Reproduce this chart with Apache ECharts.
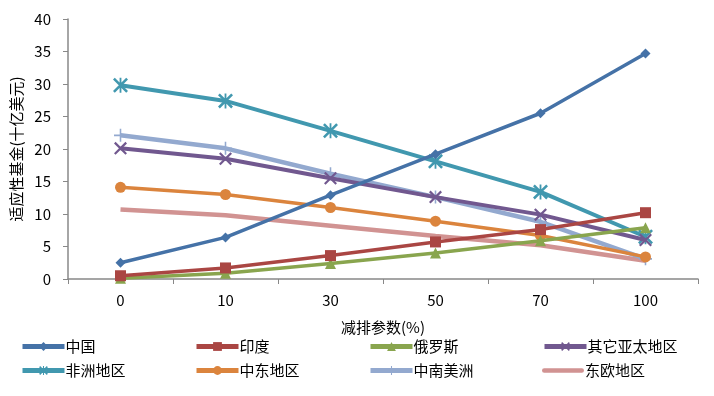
<!DOCTYPE html>
<html><head><meta charset="utf-8">
<script src="https://cdn.jsdelivr.net/npm/echarts@6/dist/echarts.min.js"></script>
<style>html,body{margin:0;padding:0;background:#fff}#c{width:714px;height:396px}</style>
</head><body><div id="c"></div>
<script>
const categories = ['0','10','30','50','70','100'];
const seriesNames = ['中国','印度','俄罗斯','其它亚太地区','非洲地区','中东地区','中南美洲','东欧地区'];
const china = [2.5, 6.4, 12.9, 19.2, 25.5, 34.7];
const india = [0.5, 1.7, 3.6, 5.7, 7.6, 10.2];
const russia = [0.1, 0.9, 2.4, 4.0, 5.9, 7.9];
const otherAP = [20.1, 18.5, 15.5, 12.6, 9.9, 6.0];
const africa = [29.8, 27.4, 22.8, 18.1, 13.4, 6.5];
const middleEast = [14.1, 13.0, 11.0, 8.9, 6.7, 3.4];
const latAm = [22.1, 20.1, 16.2, 12.6, 8.8, 3.1];
const eastEurope = [10.7, 9.8, 8.2, 6.6, 5.2, 2.8];
const yTicks = [0,5,10,15,20,25,30,35,40];

const values = [china, india, russia, otherAP, africa, middleEast, latAm, eastEurope];
const colors = ['#4572A7','#AA4643','#89A54E','#71588F','#4198AF','#DB843D','#93A9CF','#D19392'];
const xPath = 'path://M0,1.2L1.2,0L10,8.8L8.8,10ZM8.8,0L10,1.2L1.2,10L0,8.8Z';
const starPath = 'path://M0,1.2L1.2,0L10,8.8L8.8,10ZM8.8,0L10,1.2L1.2,10L0,8.8ZM4.4,0H5.6V10H4.4Z';
const plusPath = 'path://M4.4,0H5.6V4.4H10V5.6H5.6V10H4.4V5.6H0V4.4H4.4Z';
const symbols = ['diamond','rect','triangle',xPath,starPath,'circle',plusPath,'none'];
const sizes = [10,11,11,13,15,11,13,0];
const widths = [3.5,3.5,3.5,4,4,3.5,4.5,4.5];

const chart = echarts.init(document.getElementById('c'));
const font = '"Noto Sans CJK SC", "Liberation Sans", sans-serif';
const legends = seriesNames.map((n, i) => {
  const plain = symbols[i] === 'none';
  return {
    data: [plain ? {name: n, icon: 'path://M2,0H40A2,2,0,0,1,40,4.5H2A2,2,0,0,1,2,0Z'} : n],
    orient: 'horizontal', left: 20 + (i % 4) * 174,
    top: 339 + Math.floor(i / 4) * 24 + (plain ? 0 : 0),
    padding: 0,
    itemWidth: 42, itemHeight: plain ? 5 : 11,
    lineStyle: {width: 5},
    textStyle: {fontFamily: font, fontSize: 15, color: '#000', padding:[0,0,0,-4]}
  };
});
chart.setOption({
  animation: false,
  color: colors,
  grid: {left: 68, right: 16, top: 19, bottom: 117, containLabel: false},
  legend: legends,
  xAxis: {
    type: 'category', data: categories, boundaryGap: true,
    name: '减排参数(%)', nameLocation: 'middle', nameGap: 41,
    nameTextStyle: {fontFamily: font, fontSize: 15, color: '#000'},
    axisLine: {lineStyle: {color: '#888', width: 1.5}},
    axisTick: {show: true, alignWithLabel: false, length: 5, lineStyle: {color: '#888'}},
    axisLabel: {fontFamily: font, fontSize: 15, color: '#000', margin: 14}
  },
  yAxis: {
    type: 'value', min: 0, max: 40, interval: 5,
    name: '适应性基金(十亿美元)', nameLocation: 'middle', nameGap: 43,
    nameTextStyle: {fontFamily: font, fontSize: 15, color: '#000'},
    axisLine: {show: true, lineStyle: {color: '#888', width: 1.5}},
    axisTick: {show: true, length: 5, lineStyle: {color: '#888'}},
    axisLabel: {fontFamily: font, fontSize: 15, color: '#000', margin: 17,
      formatter: v => yTicks.includes(v) ? String(v) : ''},
    splitLine: {show: false}
  },
  series: seriesNames.map((n, i) => ({
    name: n, type: 'line', data: values[i],
    symbol: symbols[i], symbolSize: sizes[i], showSymbol: symbols[i] !== 'none',
    lineStyle: {width: widths[i], color: colors[i]},
    itemStyle: {color: colors[i], borderWidth: 0},
    z: 10 - i
  }))
});
</script></body></html>
